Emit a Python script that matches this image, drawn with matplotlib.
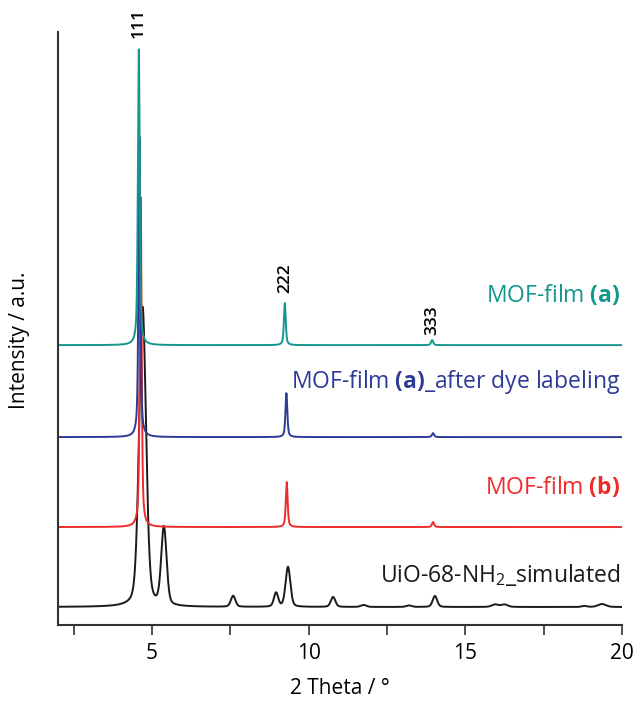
import numpy as np
import matplotlib
matplotlib.use("Agg")
import matplotlib.pyplot as plt

plt.rcParams['font.family'] = ['Open Sans', 'DejaVu Sans']
plt.rcParams['mathtext.fontset'] = 'custom'
plt.rcParams['mathtext.rm'] = 'Open Sans'
plt.rcParams['mathtext.it'] = 'Open Sans:italic'
plt.rcParams['mathtext.bf'] = 'Open Sans:bold'

# peak lists: position (2 theta), height, FWHM
sim_pos = [4.70, 5.38, 7.59, 8.96, 9.34, 10.78, 11.75, 13.2, 14.03, 15.95, 16.25, 18.8, 19.36]
sim_height = [300, 78, 11, 14, 40, 10, 2, 1.5, 11, 2.5, 2.5, 1, 3]
sim_width = [0.26, 0.2, 0.17, 0.16, 0.18, 0.17, 0.2, 0.2, 0.17, 0.25, 0.25, 0.2, 0.3]

film_b_pos = [4.64, 9.30, 13.97]
film_b_height = [330, 45, 5]
film_b_width = [0.07, 0.07, 0.08]

film_dye_pos = [4.60, 9.29, 13.97]
film_dye_height = [301, 44, 4]
film_dye_width = [0.07, 0.07, 0.08]

film_a_pos = [4.58, 9.24, 13.94]
film_a_height = [296, 42, 5]
film_a_width = [0.07, 0.07, 0.08]

offsets = [18, 98, 188, 280]
names = ['UiO-68-NH$_2$_simulated', 'MOF-film $\\mathbf{(b)}$',
         'MOF-film $\\mathbf{(a)}$_after dye labeling', 'MOF-film $\\mathbf{(a)}$']
colors = ['#1a1a1a', '#ee2b2b', '#2e3b96', '#14968c']
label_y = [50, 138, 243, 330]

hkl = ['111', '222', '333']
hkl_x = [4.58, 9.24, 13.94]
hkl_y = [587, 332, 290]

x = np.linspace(2, 20, 6000)


def pattern(pos, height, width, eta=0.6):
    y = np.zeros_like(x)
    for p, h, w in zip(pos, height, width):
        lor = 1 / (1 + ((x - p) / (w / 2)) ** 2)
        gau = np.exp(-np.log(2) * ((x - p) / (w / 2)) ** 2)
        y += h * (eta * lor + (1 - eta) * gau)
    return y


curves = [pattern(sim_pos, sim_height, sim_width, 0.3),
          pattern(film_b_pos, film_b_height, film_b_width),
          pattern(film_dye_pos, film_dye_height, film_dye_width),
          pattern(film_a_pos, film_a_height, film_a_width)]

fig = plt.figure(figsize=(6.35, 7.02), dpi=100)
ax = fig.add_axes([0.0913, 0.1097, 0.8882, 0.8443])

for c, off, col, name, ly in zip(curves, offsets, colors, names, label_y):
    ax.plot(x, c + off, color=col, lw=1.4)
    ax.text(19.95, ly, name, color=col, fontsize=16.5, ha='right', va='center')

for t, hx, hy in zip(hkl, hkl_x, hkl_y):
    ax.text(hx, hy, t, rotation=90, ha='center', va='bottom', fontsize=12.5,
            fontweight='semibold')

ax.set_xlim(2, 20)
ax.set_ylim(0, 593)
ax.set_xticks([5, 10, 15, 20])
ax.set_xticks([2.5, 7.5, 12.5, 17.5], minor=True)
ax.set_yticks([])
ax.tick_params(axis='x', which='both', direction='out', length=7, width=1.2,
               labelsize=15, pad=6, color='#333333')
for s in ['top', 'right']:
    ax.spines[s].set_visible(False)
for s in ['left', 'bottom']:
    ax.spines[s].set_linewidth(1.5)
    ax.spines[s].set_color('#333333')

ax.set_xlabel('2 Theta / °', fontsize=15, labelpad=10)
ax.set_ylabel('Intensity / a.u.', fontsize=15)
ax.yaxis.set_label_coords(-0.05, 0.48)

fig.savefig('out.png', dpi=100)
